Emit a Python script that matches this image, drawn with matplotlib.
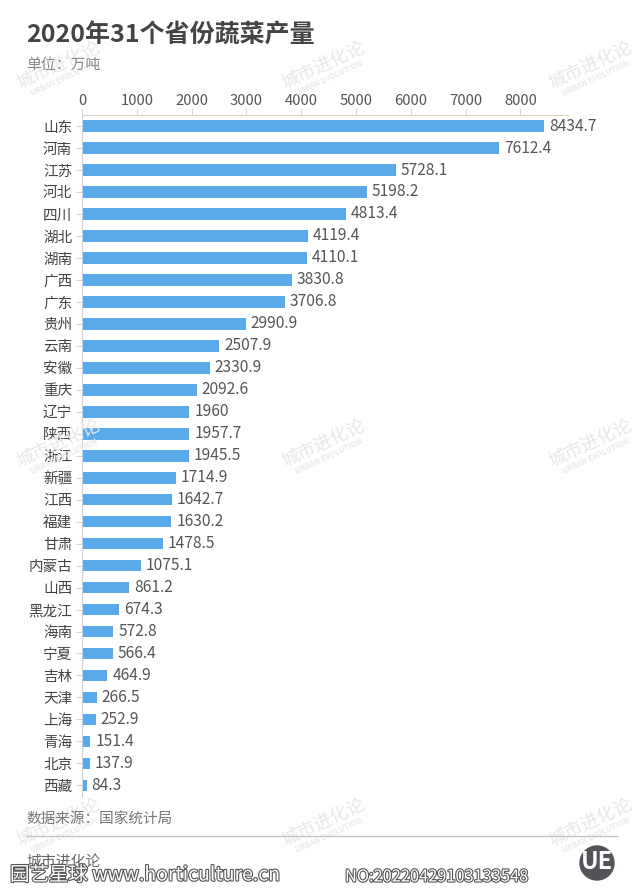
import matplotlib

matplotlib.use("Agg")

import matplotlib.patheffects as pe
import matplotlib.pyplot as plt
from matplotlib.patches import Circle

provinces = ["山东", "河南", "江苏", "河北", "四川", "湖北", "湖南", "广西", "广东", "贵州", "云南",
             "安徽", "重庆", "辽宁", "陕西", "浙江", "新疆", "江西", "福建", "甘肃", "内蒙古", "山西",
             "黑龙江", "海南", "宁夏", "吉林", "天津", "上海", "青海", "北京", "西藏"]
output = [8434.7, 7612.4, 5728.1, 5198.2, 4813.4, 4119.4, 4110.1, 3830.8, 3706.8, 2990.9, 2507.9,
          2330.9, 2092.6, 1960, 1957.7, 1945.5, 1714.9, 1642.7, 1630.2, 1478.5, 1075.1, 861.2,
          674.3, 572.8, 566.4, 464.9, 266.5, 252.9, 151.4, 137.9, 84.3]
x_ticks = [0, 1000, 2000, 3000, 4000, 5000, 6000, 7000, 8000]

W, H = 640, 896
plt.rcParams["font.family"] = ["Noto Sans CJK SC", "DejaVu Sans"]

fig = plt.figure(figsize=(W / 100, H / 100), dpi=100, facecolor="white")


def fx(px):
    return px / W


def fy(py):
    return 1 - py / H


# watermarks go underneath everything
for wy in (65, 443, 822):
    for wx in (58, 323, 590):
        fig.text(fx(wx), fy(wy), "城市进化论", fontsize=13, color="#e8e8e8", rotation=25,
                 ha="center", va="center", zorder=0)
        fig.text(fx(wx + 6), fy(wy + 13), "URBAN EVOLUTION", fontsize=5.5, color="#ebebeb", rotation=25,
                 ha="center", va="center", fontweight="bold", zorder=0)

ax = fig.add_axes([fx(82), fy(797), (568 - 82) / W, (797 - 115.5) / H])
ax.patch.set_alpha(0)
positions = list(range(len(provinces)))
ax.barh(positions, output, height=0.53, color="#5aa9ea")
ax.set_xlim(0, 8868)
ax.set_ylim(30.53, -0.48)

ax.xaxis.tick_top()
ax.set_xticks(x_ticks)
ax.set_yticks(positions)
ax.set_yticklabels(provinces)
ax.tick_params(axis="x", length=5, width=0.6, color="#d8cfc4", labelsize=10.7, labelcolor="#555555", pad=0.5)
ax.tick_params(axis="y", length=4, width=0.6, color="#cccccc", labelsize=10.5, labelcolor="#444444", pad=3)
for side in ("right", "bottom"):
    ax.spines[side].set_visible(False)
ax.spines["top"].set_color("#e0d3c4")
ax.spines["left"].set_color("#c9d3da")

for pos, val in zip(positions, output):
    ax.annotate(f"{val:g}", (val, pos), xytext=(3.5, 0), textcoords="offset points",
                va="center", ha="left", fontsize=11.2, color="#555555")

fig.text(fx(26), fy(35), "2020年31个省份蔬菜产量", fontsize=18, fontweight="bold", color="#444444",
         va="center", ha="left")
fig.text(fx(26), fy(65), "单位：万吨", fontsize=10.7, color="#888888", va="center", ha="left")
fig.text(fx(26), fy(820), "数据来源：国家统计局", fontsize=10.5, color="#777777", va="center", ha="left")
fig.text(fx(26), fy(862), "城市进化论", fontsize=10.7, color="#666666", va="center", ha="left")
fig.add_artist(plt.Line2D([fx(26), fx(617)], [fy(836), fy(836)], color="#c4c4c4", lw=1))

# UE logo, kept round by working in pixel coordinates
logo = Circle((597, H - 863), 17, color="#55525a", transform=None)
fig.add_artist(logo)
fig.text(fx(597), fy(862), "UE", fontsize=17, fontweight="bold", color="white", ha="center", va="center")

# site stamp: white letters with a dark outline
outline = [pe.withStroke(linewidth=1.6, foreground="#555555")]
fig.text(fx(10), fy(875), "园艺星球 www.horticulture.cn", fontsize=14, color="white", va="center",
         ha="left", path_effects=outline)
fig.text(fx(345), fy(877), "NO:20220429103133548", fontsize=11.8, color="white", va="center", ha="left",
         path_effects=outline)

fig.savefig("out.png", dpi=100)
